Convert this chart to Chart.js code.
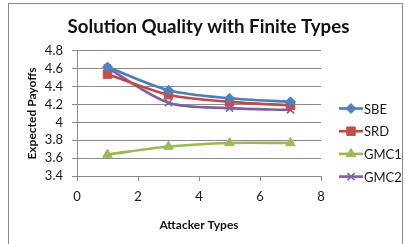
<!DOCTYPE html>
<html lang="en">
<head>
  <meta charset="UTF-8">
  <title>Solution Quality with Finite Types</title>
  <script src="https://cdn.jsdelivr.net/npm/chart.js"></script>
  <style>
    body { margin: 0; background: #fff; }
    #wrap { position: relative; width: 405px; height: 244px; }
    #frame { position: absolute; left: 8px; top: 3px; width: 395px; height: 250px;
             border: 1px solid #8a8a8a; box-sizing: border-box; pointer-events: none; }
  </style>
</head>
<body>
  <div id="wrap">
    <canvas id="chart" width="405" height="244"></canvas>
    <div id="frame"></div>
  </div>

  <script>
    // data
    const attackerTypes = [1, 3, 5, 7];
    const seriesNames = ['SBE', 'SRD', 'GMC1', 'GMC2'];
    const sbe  = [4.62, 4.36, 4.27, 4.23];
    const srd  = [4.54, 4.31, 4.23, 4.19];
    const gmc1 = [3.64, 3.73, 3.77, 3.77];
    const gmc2 = [4.61, 4.22, 4.16, 4.14];
    const xTicks = [0, 2, 4, 6, 8];
    const yTicks = [3.4, 3.6, 3.8, 4, 4.2, 4.4, 4.6, 4.8];

    const lineColors = ['#4A7EBB', '#BE4B48', '#98B954', '#7D60A0'];
    const markColors = ['#4F81BD', '#C0504D', '#9BBB59', '#8064A2'];
    const shapes = ['rectRot', 'rect', 'triangle', 'crossRot'];
    const radii = [5, 6, 5.5, 5];
    const values = [sbe, srd, gmc1, gmc2];

    const FONT = 'Lato, "Open Sans", sans-serif';
    const GRID = '#8c8c8c';

    const datasets = seriesNames.map((name, i) => ({
      label: name,
      data: attackerTypes.map((x, j) => ({ x: x, y: values[i][j] })),
      borderColor: lineColors[i],
      backgroundColor: markColors[i],
      pointBackgroundColor: markColors[i],
      pointBorderColor: markColors[i],
      pointBorderWidth: shapes[i] === 'crossRot' ? 1.6 : 1,
      pointStyle: shapes[i],
      pointRadius: radii[i],
      borderWidth: 2.6,
      tension: 0.3,
      fill: false
    }));

    // Excel-style legend: line with marker, then name
    const sideLegend = {
      id: 'sideLegend',
      afterDraw(chart) {
        const ctx = chart.ctx;
        ctx.save();
        chart.data.datasets.forEach((ds, i) => {
          const y = 108.5 + i * 22.7;
          ctx.strokeStyle = ds.borderColor;
          ctx.lineWidth = 2.6;
          ctx.beginPath();
          ctx.moveTo(339, y);
          ctx.lineTo(363, y);
          ctx.stroke();
          ctx.fillStyle = ds.pointBackgroundColor;
          ctx.strokeStyle = ds.pointBorderColor;
          ctx.lineWidth = ds.pointBorderWidth;
          Chart.helpers.drawPoint(ctx, { pointStyle: ds.pointStyle, radius: ds.pointRadius, rotation: 0, borderWidth: ds.pointBorderWidth }, 351, y);
          ctx.fillStyle = '#1a1a1a';
          ctx.font = '13px ' + FONT;
          ctx.textAlign = 'left';
          ctx.textBaseline = 'middle';
          ctx.fillText(ds.label, 364, y + 1);
        });
        ctx.restore();
      }
    };

    new Chart(document.getElementById('chart'), {
      type: 'line',
      data: { datasets: datasets },
      plugins: [sideLegend],
      options: {
        responsive: false,
        animation: false,
        layout: { padding: { left: 12, right: 0, top: 0, bottom: 0 } },
        plugins: {
          legend: { display: false },
          tooltip: { enabled: false },
          title: {
            display: true,
            text: 'Solution Quality with Finite Types',
            color: '#111',
            font: { family: FONT, size: 18.7, weight: 'bold', lineHeight: 1.2 },
            padding: { top: 15.5, bottom: 13 }
          }
        },
        scales: {
          x: {
            type: 'linear',
            min: 0, max: 8,
            afterFit: s => { s.height = 68; },
            afterBuildTicks: s => { s.ticks = xTicks.map(v => ({ value: v })); },
            grid: { drawOnChartArea: false, drawTicks: true, tickLength: 5, color: GRID },
            border: { display: true, color: GRID, width: 1 },
            ticks: { color: '#1a1a1a', padding: 8, autoSkip: false, maxRotation: 0,
                     font: { family: FONT, size: 13 } },
            title: {
              display: true, text: 'Attacker Types', color: '#111',
              font: { family: FONT, size: 12, weight: 'bold', lineHeight: 1.2 },
              padding: { top: 0, bottom: 11.8 }
            }
          },
          y: {
            min: 3.4, max: 4.8,
            afterFit: s => { s.width = 65; },
            afterBuildTicks: s => { s.ticks = yTicks.map(v => ({ value: v })); },
            grid: { color: GRID, tickLength: 5 },
            border: { display: true, color: GRID, width: 1 },
            ticks: {
              color: '#1a1a1a', padding: 9, autoSkip: false,
              font: { family: FONT, size: 13 },
              callback: v => String(+v.toFixed(1))
            },
            title: {
              display: true, text: 'Expected Payoffs', color: '#111',
              font: { family: FONT, size: 12, weight: 'bold', lineHeight: 1.2 },
              padding: { top: 12.8, bottom: 0 }
            }
          },
          spacer: {
            position: 'right',
            afterFit: s => { s.width = 84; },
            grid: { display: false },
            border: { display: false },
            ticks: { display: false }
          }
        }
      }
    });
  </script>
</body>
</html>
